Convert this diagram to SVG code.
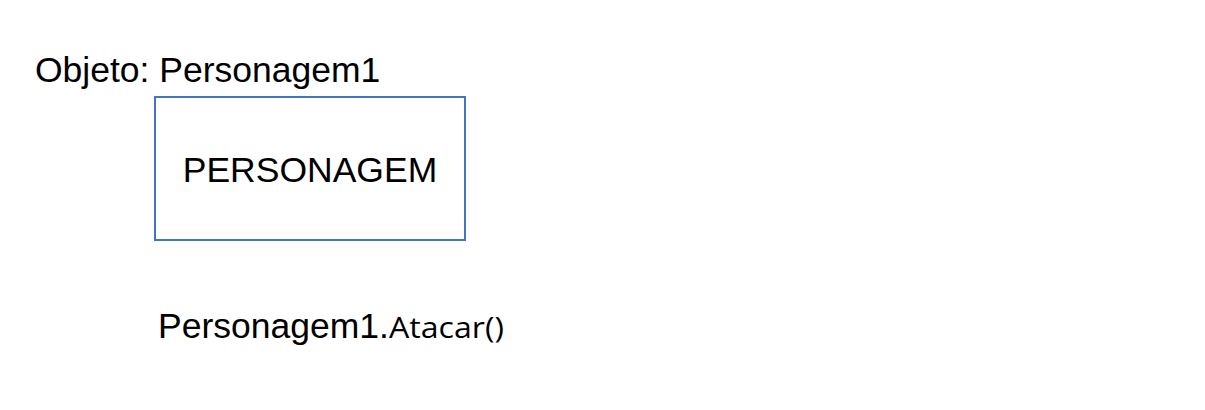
<svg xmlns="http://www.w3.org/2000/svg" width="1205" height="410" viewBox="0 0 1205 410">
<style>
.t{font-family:"Liberation Sans",Arial,sans-serif;font-size:35.5px;fill:#000}
.c{font-family:"Open Sans","Noto Sans",sans-serif;font-size:30px;fill:#000}
.box{fill:#fff;stroke:#4472C4;stroke-width:2}
</style>
<rect width="1205" height="410" fill="#fff"/>
<g id="label-objeto"><text class="t" x="35" y="82">Objeto: Personagem1</text></g>
<g id="node-personagem">
<rect class="box" x="155" y="97" width="310" height="143"/>
<text class="t" x="310" y="182" text-anchor="middle">PERSONAGEM</text>
</g>
<g id="connectors"/>
<g id="label-call"><text class="t" x="158" y="338">Personagem1.<tspan class="c" textLength="115" lengthAdjust="spacingAndGlyphs">Atacar()</tspan></text></g>
</svg>
